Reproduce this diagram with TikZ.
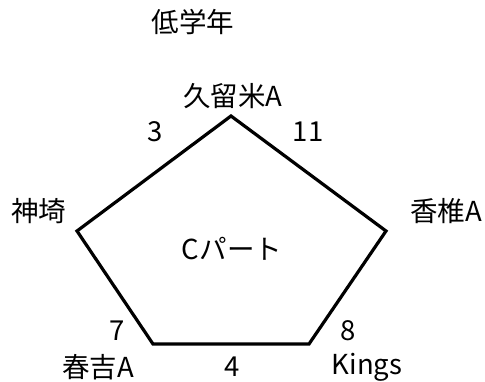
\documentclass[tikz,border=0pt]{standalone}
\usepackage{fontspec}
\setmainfont{Noto Sans CJK JP}
\begin{document}
\begin{tikzpicture}[x=1pt,y=-1pt,
  lbl/.style={inner sep=0pt,font=\fontsize{27.5}{30}\selectfont,anchor=center},
  edge/.style={line width=3.2pt,line join=miter}]
\useasboundingbox (0,0) rectangle (485,382);
\coordinate (top) at (231,116);
\coordinate (rt) at (386,231);
\coordinate (br) at (309,344);
\coordinate (bl) at (153,344);
\coordinate (lt) at (77,231);
\draw[edge] (top) -- (rt) -- (br) -- (bl) -- (lt) -- cycle;
\node[lbl] (title) at (193,22) {低学年};
\node[lbl] (kurume) at (233,96) {久留米A};
\node[lbl] (n3) at (155,132) {3};
\node[lbl] (n11) at (308,132) {11};
\node[lbl] (kanzaki) at (39,211) {神埼};
\node[lbl] (kashii) at (446,211) {香椎A};
\node[lbl] (cpart) at (232,249) {Cパート};
\node[lbl] (n7) at (117,331) {7};
\node[lbl] (n8) at (348,331) {8};
\node[lbl] (haruyoshi) at (98,367) {春吉A};
\node[lbl] (n4) at (232,367) {4};
\node[lbl] (kings) at (367,367) {Kings};
\end{tikzpicture}
\end{document}
